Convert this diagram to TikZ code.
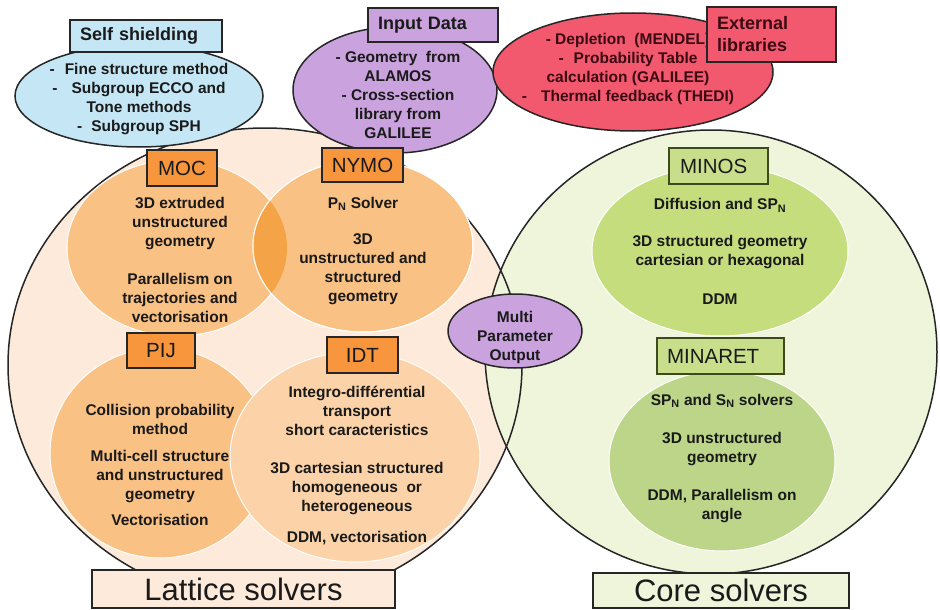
\documentclass[tikz,border=0pt]{standalone}
\usepackage{fontspec}
\setmainfont{Liberation Sans}
\definecolor{edge}{HTML}{262626}
\definecolor{ink}{HTML}{1A1A1A}
\definecolor{maroon}{HTML}{3B0A12}
\definecolor{beige}{HTML}{FDEADA}
\definecolor{pale}{HTML}{EEF5DA}
\definecolor{aqua}{HTML}{C5E7F5}
\definecolor{lilac}{HTML}{C9A2DE}
\definecolor{rose}{HTML}{F2586E}
\definecolor{peach}{HTML}{FAC184}
\definecolor{apricot}{HTML}{FCD3A8}
\definecolor{lens}{HTML}{F5A347}
\definecolor{amber}{HTML}{F7963C}
\definecolor{lime}{HTML}{C6DD7D}
\definecolor{olive}{HTML}{BCD589}
\definecolor{limebox}{HTML}{C8DE8A}
\definecolor{moss}{HTML}{3D4A1E}
\tikzset{
  body/.style={font=\bfseries\fontsize{15.5}{19}\selectfont, align=center, text=ink, inner sep=0pt},
  tag/.style={draw=edge, line width=1.3pt, inner sep=0pt, text=ink, font=\fontsize{20.5}{24}\selectfont},
  head/.style={draw=edge, line width=1.3pt, inner xsep=10pt, inner ysep=0pt, align=left, text=ink, font=\bfseries\fontsize{18}{22}\selectfont},
  title/.style={draw=edge, line width=1.5pt, inner sep=0pt, text=ink, font=\fontsize{31}{36}\selectfont},
  rim/.style={draw=edge, line width=1.5pt},
  glow/.style={draw=white, line width=1pt},
}
\begin{document}
\begin{tikzpicture}[x=1pt, y=-1pt]
    \useasboundingbox[fill=white] (0,0) rectangle (940,610);

    % Centres
    \coordinate (lat) at (265,365);
    \coordinate (cor) at (711,352);
    \coordinate (moc) at (177,248);
    \coordinate (nymo) at (363,246);
    \coordinate (pij) at (160,453);
    \coordinate (idt) at (355,457);
    \coordinate (minos) at (720,251);
    \coordinate (minaret) at (722,461);

    % Grands cercles
    \fill[beige] (lat) ellipse [x radius=257, y radius=237];
    \fill[pale] (cor) ellipse [x radius=226, y radius=222];
    \draw[rim] (lat) ellipse [x radius=257, y radius=237];
    \draw[rim] (cor) ellipse [x radius=226, y radius=222];

    % Bulles du haut
    \filldraw[rim, fill=aqua] (139,96) ellipse [x radius=124, y radius=51];
    \filldraw[rim, fill=lilac] (395,90) ellipse [x radius=102, y radius=63];
    \filldraw[rim, fill=rose] (633,72) ellipse [x radius=140, y radius=59];

    % Solveurs reseau
    \filldraw[glow, fill=peach] (moc) ellipse [x radius=110, y radius=88];
    \filldraw[glow, fill=peach] (nymo) ellipse [x radius=110, y radius=86];
    \begin{scope}
        \clip (moc) ellipse [x radius=110, y radius=88];
        \fill[lens] (nymo) ellipse [x radius=110, y radius=86];
    \end{scope}
    \draw[glow] (nymo) ellipse [x radius=110, y radius=86];
    \filldraw[glow, fill=peach] (pij) ellipse [x radius=110, y radius=105];
    \filldraw[glow, fill=apricot] (idt) ellipse [x radius=125, y radius=105];

    % Solveurs coeur
    \filldraw[glow, fill=lime] (minos) ellipse [x radius=128, y radius=85];
    \filldraw[glow, fill=olive] (minaret) ellipse [x radius=113, y radius=90];

    % Sortie
    \filldraw[rim, fill=lilac] (515,331) ellipse [x radius=67, y radius=37];

    % Textes
    \node[body] (shieldtxt) at (139,99) {-\hspace{10pt}Fine structure method\\ -\hspace{14pt}Subgroup ECCO and\\ Tone methods\\ -\hspace{9pt}Subgroup SPH};
    \node[body] (inputtxt) at (398,94.5) {- Geometry\ \ from\\ ALAMOS\\ - Cross-section\\ library from\\ GALILEE};
    \node[body, text=maroon] (exttxt) at (628,69) {- Depletion\ \ (MENDEL)\\ -\hspace{10pt}Probability Table\\ calculation (GALILEE)\\ -\hspace{14pt}Thermal feedback (THEDI)};
    \node[body] (moctxt) at (180,260) {3D extruded\\ unstructured\\ geometry\\[19pt] Parallelism on\\ trajectories and\\ vectorisation};
    \node[body] (nymotxt) at (363,251) {P\textsubscript{N} Solver\\[17pt] 3D\\ unstructured and\\ structured\\ geometry};
    \node[body] (pijtxt) at (160,464.5) {Collision probability\\ method\\[8pt] Multi-cell structure\\ and unstructured\\ geometry\\[7pt] Vectorisation};
    \node[body] (idttxt) at (357,466) {Integro-différential\\ transport\\ short caracteristics\\[19pt] 3D cartesian structured\\ homogeneous\ \ or\\ heterogeneous\\[12pt] DDM, vectorisation};
    \node[body] (minostxt) at (720,251.5) {Diffusion and SP\textsubscript{N}\\[18pt] 3D structured geometry\\ cartesian or hexagonal\\[20pt] DDM};
    \node[body] (minarettxt) at (722,458.5) {SP\textsubscript{N} and S\textsubscript{N} solvers\\[19pt] 3D unstructured\\ geometry\\[19pt] DDM, Parallelism on\\ angle};
    \node[body] (mpotxt) at (515,337.5) {Multi\\ Parameter\\ Output};

    % Etiquettes
    \node[head, fill=aqua, text width=132, minimum height=32] (shieldbox) at (146,36) {Self shielding};
    \node[head, fill=lilac, text width=110, minimum height=34] (inputbox) at (433,25) {Input Data};
    \node[head, fill=rose, text=maroon, text width=109, minimum height=55] (extbox) at (771.5,34.5) {External\\ libraries};
    \node[tag, fill=amber, minimum width=70, minimum height=36] (mocbox) at (182,168) {MOC};
    \node[tag, fill=amber, minimum width=81, minimum height=34] (nymobox) at (362.5,165) {NYMO};
    \node[tag, fill=amber, minimum width=68, minimum height=35] (pijbox) at (161,350.5) {PIJ};
    \node[tag, fill=amber, minimum width=71, minimum height=36] (idtbox) at (362.5,355) {IDT};
    \node[tag, draw=moss, fill=limebox, text width=77, inner xsep=11pt, align=left, minimum height=36] (minosbox) at (718.5,166) {MINOS};
    \node[tag, draw=moss, fill=limebox, text width=107, inner xsep=10pt, align=left, minimum height=36] (minaretbox) at (720.5,356) {MINARET};

    % Titres
    \node[title, fill=beige, minimum width=303, minimum height=38] (latbox) at (243.5,589) {Lattice solvers};
    \node[title, fill=pale, minimum width=256, minimum height=35] (corbox) at (721,590.5) {Core solvers};
\end{tikzpicture}
\end{document}
